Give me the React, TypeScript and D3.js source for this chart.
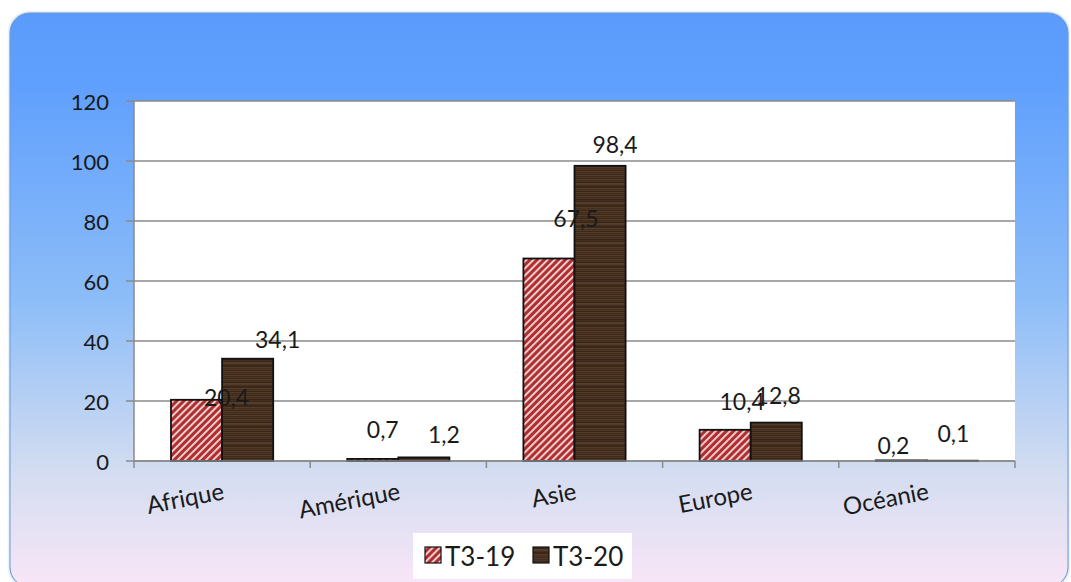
import React, { useEffect } from "react";
import * as d3 from "d3";

const categories = ["Afrique", "Amérique", "Asie", "Europe", "Océanie"];
const seriesNames = ["T3-19", "T3-20"];
const t319 = [20.4, 0.7, 67.5, 10.4, 0.2];
const t320 = [34.1, 1.2, 98.4, 12.8, 0.1];
const yTicks = [0, 20, 40, 60, 80, 100, 120];

// label nudges (pixels) reproducing the manual label placement of the original
const labelNudge = [
  [[30, -3], [30, -20]],
  [[10, -30], [20, -23]],
  [[27, -41], [15, -22]],
  [[17, -29], [2, -28]],
  [[-8, -15], [1, -28]],
];

const W = 1071;
const H = 582;
const plot = { left: 134, right: 1015, top: 101, bottom: 461 };
const FONT = "Lato, 'Open Sans', sans-serif";

export default function App() {
  useEffect(() => {
    document.body.style.margin = "0";
  }, []);

  const x0 = d3
    .scaleBand<string>()
    .domain(categories)
    .range([plot.left, plot.right])
    .paddingInner(0.42)
    .paddingOuter(0.21);
  const x1 = d3
    .scaleBand<string>()
    .domain(seriesNames)
    .range([0, x0.bandwidth()])
    .padding(0);
  const y = d3.scaleLinear().domain([0, 120]).range([plot.bottom, plot.top]);
  const step = (plot.right - plot.left) / categories.length;
  const fills = ["url(#hatch)", "url(#wood)"];
  const series = [t319, t320];
  const fmt = (v: number) => String(v).replace(".", ",");

  const woodLines = d3.range(0, 40, 1);
  const woodCols = ["#45301f", "#543b29", "#3c2819", "#4d3524", "#412c1c", "#573e2c", "#38251a"];

  return (
    <svg width={W} height={H} style={{ display: "block" }} fontFamily={FONT}>
      <defs>
        <linearGradient id="bg" x1="0" y1="0" x2="0" y2="1">
          <stop offset="0" stopColor="#5b9bfb" />
          <stop offset="0.12" stopColor="#5f9ffd" />
          <stop offset="0.5" stopColor="#8dbdf8" />
          <stop offset="0.8" stopColor="#d3ddf1" />
          <stop offset="1" stopColor="#f9e6f7" />
        </linearGradient>
        <pattern id="hatch" patternUnits="userSpaceOnUse" width="5" height="5" patternTransform="rotate(45)">
          <rect width="5" height="5" fill="#b02e30" />
          <rect x="0" y="0" width="1.8" height="5" fill="#f2dcdc" />
        </pattern>
        <pattern id="wood" patternUnits="userSpaceOnUse" width="60" height="40">
          <rect width="60" height="40" fill="#45301f" />
          {woodLines.map((i) => (
            <rect key={i} x={0} y={i} width={60} height={1} fill={woodCols[(i * 5 + (i % 3)) % 7]} />
          ))}
        </pattern>
        <filter id="sh" x="-5%" y="-5%" width="110%" height="110%">
          <feGaussianBlur stdDeviation="1" />
        </filter>
      </defs>

      <rect x={9} y={12} width={1060} height={576} rx={20} fill="#c8d6ea" filter="url(#sh)" />
      <rect x={10} y={13} width={1058} height={574} rx={20} fill="url(#bg)" stroke="#6a9ad8" strokeWidth={1} />

      {/* plot area */}
      <rect x={plot.left} y={plot.top} width={plot.right - plot.left} height={plot.bottom - plot.top} fill="#ffffff" />

      {/* gridlines */}
      {yTicks.map((t) => (
        <line
          key={"g" + t}
          x1={plot.left - 8}
          x2={plot.right}
          y1={y(t)}
          y2={y(t)}
          stroke="#8a8a8a"
          strokeWidth={1.5}
        />
      ))}
      {yTicks.map((t) => (
        <text
          key={"yl" + t}
          x={109}
          y={y(t)}
          textAnchor="end"
          dominantBaseline="central"
          fontSize={22}
          fill="#1a1a1a"
        >
          {t}
        </text>
      ))}
      <line x1={plot.left} x2={plot.left} y1={plot.top} y2={plot.bottom + 7} stroke="#8a8a8a" strokeWidth={1.5} />
      {d3.range(1, categories.length + 1).map((i) => (
        <line
          key={"xt" + i}
          x1={plot.left + step * i}
          x2={plot.left + step * i}
          y1={plot.bottom}
          y2={plot.bottom + 7}
          stroke="#8a8a8a"
          strokeWidth={1.5}
        />
      ))}

      {/* bars */}
      {categories.map((c, ci) =>
        series.map((s, si) => (
          <rect
            key={c + si}
            x={(x0(c) as number) + (x1(seriesNames[si]) as number)}
            y={y(s[ci])}
            width={x1.bandwidth()}
            height={y(0) - y(s[ci])}
            fill={fills[si]}
            stroke="#111"
            strokeWidth={1.8}
          />
        ))
      )}
      <line x1={plot.left} x2={plot.right} y1={plot.bottom} y2={plot.bottom} stroke="#8a8a8a" strokeWidth={1.5} />

      {/* data labels */}
      {categories.map((c, ci) =>
        series.map((s, si) => {
          const cx = (x0(c) as number) + (x1(seriesNames[si]) as number) + x1.bandwidth() / 2;
          const [dx, dy] = labelNudge[ci][si];
          return (
            <text
              key={"dl" + c + si}
              x={cx + dx}
              y={y(s[ci]) + dy}
              textAnchor="middle"
              dominantBaseline="central"
              fontSize={23}
              fill="#1a1a1a"
            >
              {fmt(s[ci])}
            </text>
          );
        })
      )}

      {/* x labels */}
      {categories.map((c) => {
        const cx = (x0(c) as number) + x0.bandwidth() / 2;
        return (
          <text
            key={"xl" + c}
            transform={`translate(${cx + 3},${plot.bottom + 38}) rotate(-11)`}
            textAnchor="end"
            fontSize={24}
            fill="#1a1a1a"
          >
            {c}
          </text>
        );
      })}

      {/* legend */}
      <g>
        <rect x={413} y={533} width={219} height={46} fill="#ffffff" />
        {seriesNames.map((n, i) => (
          <g key={n} transform={`translate(${425 + i * 108},547)`}>
            <rect width={16} height={16} fill={fills[i]} stroke="#111" strokeWidth={1.2} />
            <text x={20} y={9} dominantBaseline="central" fontSize={26} fill="#1a1a1a">
              {n}
            </text>
          </g>
        ))}
      </g>
    </svg>
  );
}
